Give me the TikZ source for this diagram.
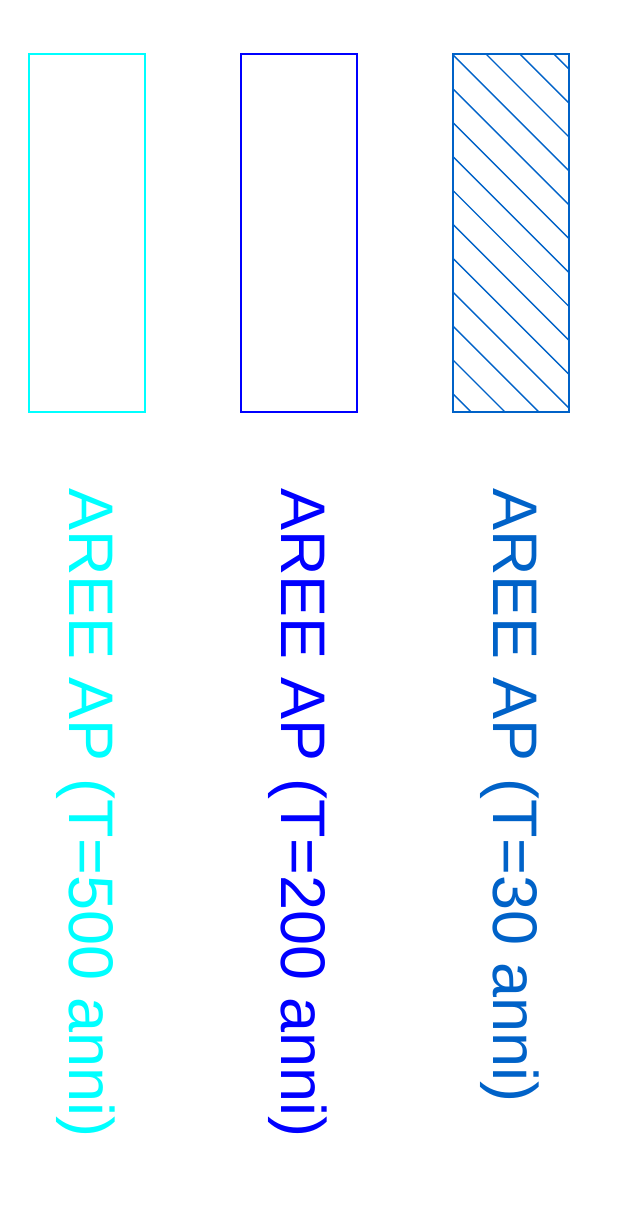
\documentclass[tikz,border=0pt]{standalone}
\usepackage{fontspec}
\setmainfont{Liberation Sans}
\definecolor{cyanc}{RGB}{0,255,255}
\definecolor{bluec}{RGB}{0,0,255}
\definecolor{midc}{RGB}{0,98,200}
\tikzset{
  legbox/.style={draw, line width=1.5pt, minimum width=116pt, minimum height=358pt, inner sep=0pt, outer sep=0pt, anchor=north west},
  leglabel/.style={rotate=-90, anchor=west, inner sep=0pt, font=\fontsize{63}{70}\selectfont}
}
\begin{document}
\begin{tikzpicture}[x=1pt,y=-1pt]
\useasboundingbox (0,0) rectangle (636,1212);
% boxes
\node[legbox, cyanc] (b1) at (29,54) {};
\node[legbox, bluec] (b2) at (241,54) {};
\node[legbox, midc] (b3) at (453,54) {};
% hatch
\begin{scope}
\clip (b3.north west) rectangle (b3.south east);
\foreach \k in {-3,...,12}{
  \pgfmathsetmacro{\c}{-432+33.9*\k}
  \draw[midc, line width=1.4pt] (453,{453+\c}) -- (569,{569+\c});
}
\end{scope}
\node[legbox, midc] (b3b) at (453,54) {};
% labels
\node[leglabel, text=cyanc] (t1) at (86,488) {AREE AP (T=500 anni)};
\node[leglabel, text=bluec] (t2) at (298,488) {AREE AP (T=200 anni)};
\node[leglabel, text=midc] (t3) at (510,488) {AREE AP (T=30 anni)};
\end{tikzpicture}
\end{document}
